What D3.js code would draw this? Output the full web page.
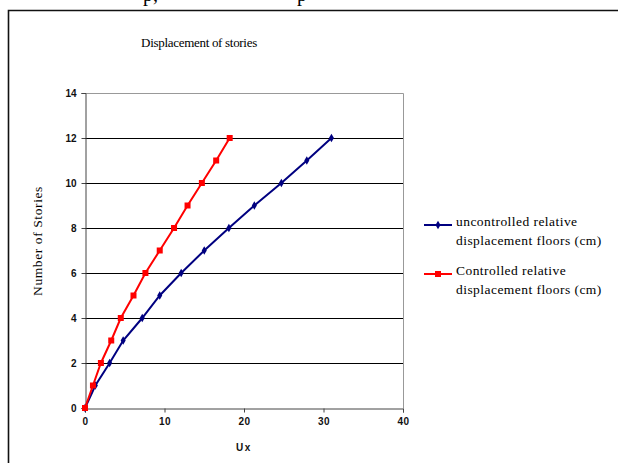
<!DOCTYPE html>
<html lang="en">
<head>
<meta charset="UTF-8">
<title>Displacement of stories</title>
<script src="https://cdn.jsdelivr.net/npm/d3@7"></script>
<style>
  html, body { margin: 0; padding: 0; background: #fff; }
  svg { display: block; }
</style>
</head>
<body>
<div id="chart"></div>
<script>
// stories (y) and displacements (x)
const stories = [0, 1, 2, 3, 4, 5, 6, 7, 8, 9, 10, 11, 12];
const uncontrolled = [0, 1.3, 3.1, 4.8, 7.2, 9.4, 12.1, 15.0, 18.1, 21.3, 24.7, 27.9, 31.0];
const controlled = [0, 1.0, 2.0, 3.3, 4.5, 6.1, 7.6, 9.4, 11.2, 12.9, 14.7, 16.5, 18.2];
const xTicks = [0, 10, 20, 30, 40];
const yTicks = [0, 2, 4, 6, 8, 10, 12, 14];
const seriesNames = ["uncontrolled relative|displacement floors (cm)", "Controlled relative|displacement floors (cm)"];

const width = 618, height = 463;
const svg = d3.select('#chart').append('svg')
  .attr('width', width).attr('height', height);

// page frame (chart object border, cut off on the right and bottom)
svg.append('path')
  .attr('d', 'M8.5,463V10.5H618')
  .attr('fill', 'none').attr('stroke', '#111').attr('stroke-width', 1.6);

// leftover descenders from the page text above the chart
svg.append('text').attr('x', 143).attr('y', 1).attr('font-family', 'Liberation Serif')
  .attr('font-size', 20).text('p,');
svg.append('text').attr('x', 297).attr('y', 1).attr('font-family', 'Liberation Serif')
  .attr('font-size', 20).text('p');

const x = d3.scaleLinear().domain([0, 40]).range([85, 403]);
const y = d3.scaleLinear().domain([0, 14]).range([408, 93]);

// gridlines
svg.append('g').selectAll('line')
  .data(yTicks.filter(d => d > 0 && d < 14))
  .join('line')
  .attr('x1', x(0)).attr('x2', x(40))
  .attr('y1', d => Math.round(y(d)) + 0.5).attr('y2', d => Math.round(y(d)) + 0.5)
  .attr('stroke', '#000').attr('stroke-width', 1);

// plot area border top / right
svg.append('path')
  .attr('d', `M${x(0)},${Math.round(y(14)) + 0.5}H${Math.round(x(40)) + 0.5}V${y(0)}`)
  .attr('fill', 'none').attr('stroke', '#999');

// axes
const yAxis = svg.append('g')
  .attr('transform', `translate(${Math.round(x(0)) + 0.5},0)`)
  .call(d3.axisLeft(y).tickValues(yTicks).tickSize(4).tickPadding(5));
const xAxis = svg.append('g')
  .attr('transform', `translate(0,${Math.round(y(0)) + 0.5})`)
  .call(d3.axisBottom(x).tickValues(xTicks).tickSize(4).tickPadding(5));
[yAxis, xAxis].forEach(a => {
  a.select('.domain').attr('stroke', '#444');
  a.selectAll('.tick line').attr('stroke', '#444');
  a.selectAll('.tick text')
    .attr('font-family', 'Liberation Sans, Arial, sans-serif')
    .attr('font-size', 10).attr('font-weight', 'bold').attr('fill', '#111');
});
yAxis.selectAll('.tick text').attr('dy', '0.35em');
xAxis.selectAll('.tick text').attr('letter-spacing', 0.5);

// series lines
const line = d3.line().x(d => x(d[0])).y(d => y(d[1]));
const blue = '#000080', red = '#ff0000';

svg.append('path')
  .datum(uncontrolled.map((v, i) => [v, stories[i]]))
  .attr('d', line).attr('fill', 'none').attr('stroke', blue).attr('stroke-width', 2);
svg.append('g').selectAll('path')
  .data(uncontrolled.map((v, i) => [v, stories[i]]))
  .join('path')
  .attr('d', d3.symbol(d3.symbolDiamond, 22))
  .attr('transform', d => `translate(${x(d[0])},${y(d[1])})`)
  .attr('fill', blue);

svg.append('path')
  .datum(controlled.map((v, i) => [v, stories[i]]))
  .attr('d', line).attr('fill', 'none').attr('stroke', red).attr('stroke-width', 2);
svg.append('g').selectAll('rect')
  .data(controlled.map((v, i) => [v, stories[i]]))
  .join('rect')
  .attr('x', d => x(d[0]) - 3).attr('y', d => y(d[1]) - 3)
  .attr('width', 6).attr('height', 6)
  .attr('fill', red);

// title and axis labels
svg.append('text')
  .attr('x', 199).attr('y', 47).attr('text-anchor', 'middle')
  .attr('font-family', 'Liberation Serif, Times New Roman, serif')
  .attr('font-size', 13).attr('letter-spacing', -0.3)
  .text('Displacement of stories');

svg.append('text')
  .attr('transform', 'translate(42,241) rotate(-90)')
  .attr('text-anchor', 'middle')
  .attr('font-family', 'Liberation Serif, Times New Roman, serif')
  .attr('font-size', 13.5).attr('letter-spacing', 0.6)
  .text('Number of Stories');

svg.append('text')
  .attr('x', 244).attr('y', 451).attr('text-anchor', 'middle')
  .attr('font-family', 'Liberation Sans, Arial, sans-serif')
  .attr('font-size', 10).attr('font-weight', 'bold').attr('letter-spacing', 1.5)
  .attr('fill', '#111')
  .text('Ux');

// legend
const legendY = [225, 274];
const legend = svg.append('g');
seriesNames.forEach((name, i) => {
  const ly = legendY[i];
  const col = i === 0 ? blue : red;
  legend.append('line')
    .attr('x1', 424).attr('x2', 452).attr('y1', ly).attr('y2', ly)
    .attr('stroke', col).attr('stroke-width', 2);
  if (i === 0) {
    legend.append('path').attr('d', d3.symbol(d3.symbolDiamond, 22))
      .attr('transform', `translate(438,${ly})`).attr('fill', col);
  } else {
    legend.append('rect').attr('x', 435).attr('y', ly - 3)
      .attr('width', 6).attr('height', 6).attr('fill', col);
  }
  name.split('|').forEach((t, j) => {
    legend.append('text')
      .attr('x', 456).attr('y', ly + 1 + j * 19)
      .attr('font-family', 'Liberation Serif, Times New Roman, serif')
      .attr('font-size', 13.5).attr('letter-spacing', 0.45)
      .text(t);
  });
});
</script>
</body>
</html>
